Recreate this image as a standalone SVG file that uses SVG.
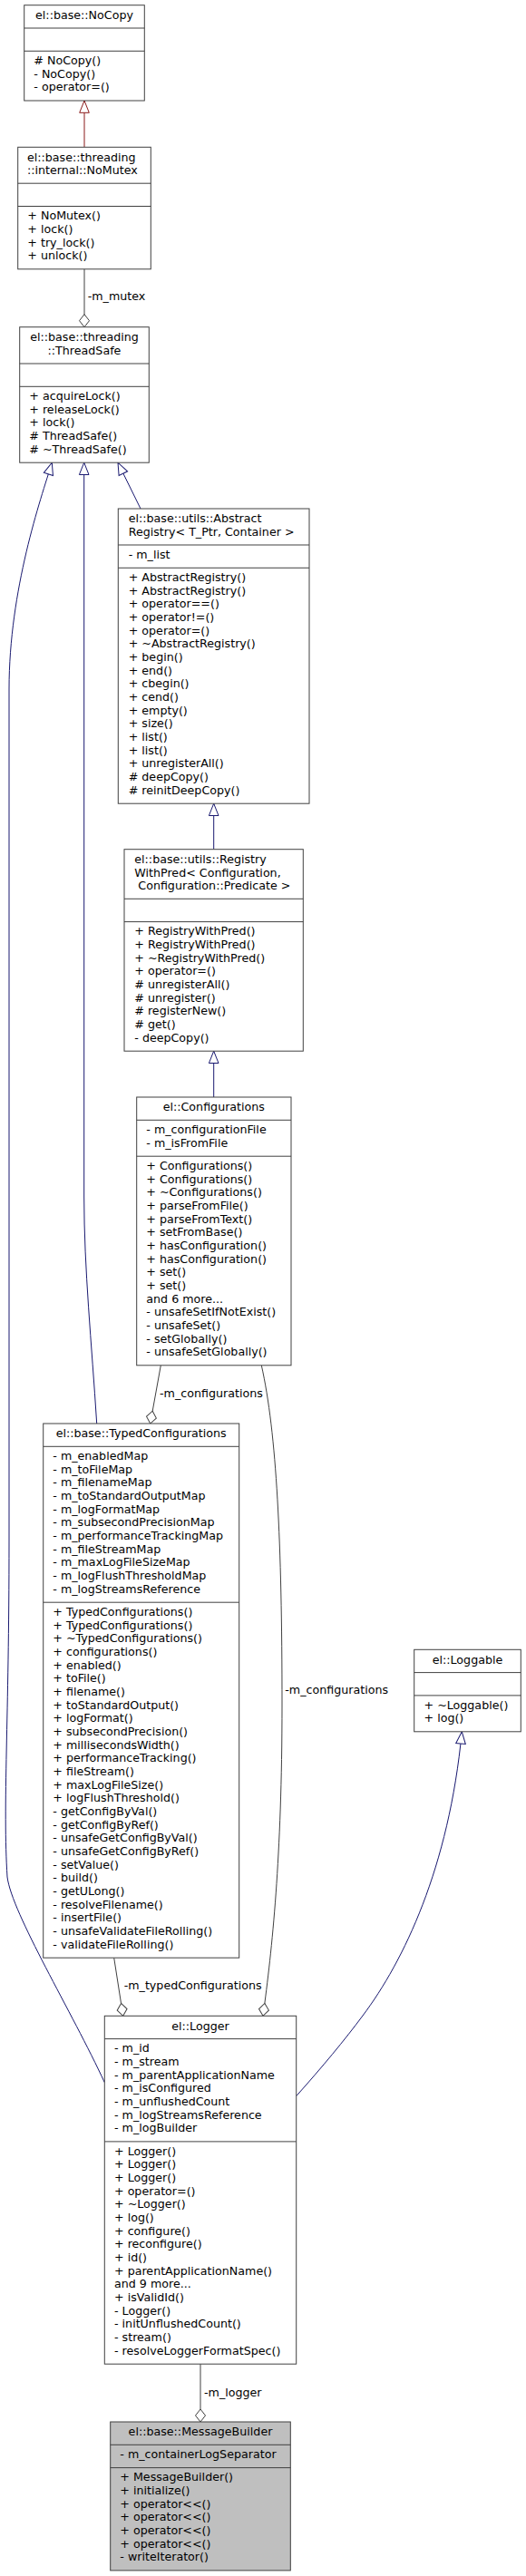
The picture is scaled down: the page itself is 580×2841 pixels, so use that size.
<svg xmlns="http://www.w3.org/2000/svg" width="580" height="2841" viewBox="0 0 580 2841">
<style>
text{font-family:"DejaVu Sans","Liberation Sans",sans-serif;font-size:12.67px;fill:#000}
.c{text-anchor:middle}
.box{fill:#fff;stroke:#404040;stroke-width:1}
.main{fill:#bfbfbf;stroke:#404040;stroke-width:1}
.div{stroke:#404040;stroke-width:1}
.inh{fill:none;stroke:#191970;stroke-width:1}
.inhr{fill:none;stroke:#8b1a1a;stroke-width:1}
.agg{fill:none;stroke:#404040;stroke-width:1}
</style>
<defs>
<marker id="triB" markerUnits="userSpaceOnUse" markerWidth="16" markerHeight="12" refX="13.3" refY="5.3" orient="auto" overflow="visible"><path d="M0,0 L13.3,5.3 L0,10.6 z" fill="#fff" stroke="#191970"/></marker>
<marker id="triR" markerUnits="userSpaceOnUse" markerWidth="16" markerHeight="12" refX="13.3" refY="5.3" orient="auto" overflow="visible"><path d="M0,0 L13.3,5.3 L0,10.6 z" fill="#fff" stroke="#8b1a1a"/></marker>
<marker id="dia" markerUnits="userSpaceOnUse" markerWidth="16" markerHeight="12" refX="14" refY="5.5" orient="auto" overflow="visible"><path d="M0,5.5 L7,0 L14,5.5 L7,11 z" fill="#fff" stroke="#404040"/></marker>
</defs>
<g id="connectors">
<path class="inhr" d="M93,162.3 L93,111" marker-end="url(#triR)"/>
<path class="agg" d="M93,296.8 L93,360.7" marker-end="url(#dia)"/>
<text x="96.7" y="331">-m_mutex</text>
<path class="inh" d="M155,561 L130,510.2" marker-end="url(#triB)"/>
<path class="inh" d="M106.7,1570 C101,1480 92.7,1400 92.7,1320 L92.7,510.2" marker-end="url(#triB)"/>
<path class="inh" d="M115.3,2296.7 C80,2220 13,2110 8,2070 C3,1990 10,1900 10,1700 L10,760 C10,650 45,550 57.3,510.2" marker-end="url(#triB)"/>
<path class="inh" d="M235.7,936.7 L235.7,886.2" marker-end="url(#triB)"/>
<path class="inh" d="M235.7,1210 L235.7,1159.2" marker-end="url(#triB)"/>
<path class="agg" d="M177.3,1505.8 L165.7,1570" marker-end="url(#dia)"/>
<text x="176" y="1541">-m_configurations</text>
<path class="agg" d="M288.3,1505.8 C305,1580 311,1700 311,1880 C311,2050 300,2150 290,2223.3" marker-end="url(#dia)"/>
<text x="314.3" y="1868.3">-m_configurations</text>
<path class="agg" d="M125.7,2159.2 L135.7,2223.3" marker-end="url(#dia)"/>
<text x="136.7" y="2194.3">-m_typedConfigurations</text>
<path class="inh" d="M326.7,2311.7 C355,2280 380,2250 400,2223 C445,2163 495,2060 509.3,1909.8" marker-end="url(#triB)"/>
<path class="agg" d="M221,2607.2 L221,2671" marker-end="url(#dia)"/>
<text x="225" y="2643.3">-m_logger</text>
</g>
<g id="NoCopy">
<rect class="box" x="26.7" y="5.7" width="132.6" height="105.3"/>
<line class="div" x1="26.7" y1="31" x2="159.3" y2="31"/>
<line class="div" x1="26.7" y1="56.3" x2="159.3" y2="56.3"/>
<text class="c" x="93" y="20.9">el::base::NoCopy</text>
<text x="37.3" y="71">#  NoCopy()</text>
<text x="37.3" y="85.6">- NoCopy()</text>
<text x="37.3" y="100.3">- operator=()</text>
</g>
<g id="NoMutex">
<rect class="box" x="19.7" y="162.3" width="146.6" height="134.5"/>
<line class="div" x1="19.7" y1="202.2" x2="166.3" y2="202.2"/>
<line class="div" x1="19.7" y1="227.5" x2="166.3" y2="227.5"/>
<text x="30" y="177.5">el::base::threading</text>
<text x="30" y="192.2">::internal::NoMutex</text>
<text x="30.3" y="242.2">+ NoMutex()</text>
<text x="30.3" y="256.9">+ lock()</text>
<text x="30.3" y="271.5">+ try_lock()</text>
<text x="30.3" y="286.2">+ unlock()</text>
</g>
<g id="ThreadSafe">
<rect class="box" x="21.7" y="360.7" width="142.6" height="149.5"/>
<line class="div" x1="21.7" y1="401" x2="164.3" y2="401"/>
<line class="div" x1="21.7" y1="426.3" x2="164.3" y2="426.3"/>
<text class="c" x="93" y="375.9">el::base::threading</text>
<text class="c" x="93" y="390.6">::ThreadSafe</text>
<text x="32.3" y="441">+ acquireLock()</text>
<text x="32.3" y="455.7">+ releaseLock()</text>
<text x="32.3" y="470.3">+ lock()</text>
<text x="32.3" y="485">#  ThreadSafe()</text>
<text x="32.3" y="499.7">#  ~ThreadSafe()</text>
</g>
<g id="AbstractRegistry">
<rect class="box" x="130.3" y="561" width="210.7" height="325.2"/>
<line class="div" x1="130.3" y1="601" x2="341" y2="601"/>
<line class="div" x1="130.3" y1="626.3" x2="341" y2="626.3"/>
<text x="141.7" y="576.2">el::base::utils::Abstract</text>
<text x="141.7" y="590.9">Registry&lt; T_Ptr, Container &gt;</text>
<text x="141.7" y="615.7">- m_list</text>
<text x="141.7" y="641">+ AbstractRegistry()</text>
<text x="141.7" y="655.7">+ AbstractRegistry()</text>
<text x="141.7" y="670.3">+ operator==()</text>
<text x="141.7" y="685">+ operator!=()</text>
<text x="141.7" y="699.7">+ operator=()</text>
<text x="141.7" y="714.3">+ ~AbstractRegistry()</text>
<text x="141.7" y="729">+ begin()</text>
<text x="141.7" y="743.7">+ end()</text>
<text x="141.7" y="758.4">+ cbegin()</text>
<text x="141.7" y="773">+ cend()</text>
<text x="141.7" y="787.7">+ empty()</text>
<text x="141.7" y="802.4">+ size()</text>
<text x="141.7" y="817">+ list()</text>
<text x="141.7" y="831.7">+ list()</text>
<text x="141.7" y="846.4">+ unregisterAll()</text>
<text x="141.7" y="861">#  deepCopy()</text>
<text x="141.7" y="875.7">#  reinitDeepCopy()</text>
</g>
<g id="RegistryWithPred">
<rect class="box" x="137" y="936.7" width="197.3" height="222.5"/>
<line class="div" x1="137" y1="991.3" x2="334.3" y2="991.3"/>
<line class="div" x1="137" y1="1016.6" x2="334.3" y2="1016.6"/>
<text x="148.3" y="951.9">el::base::utils::Registry</text>
<text x="148.3" y="966.6">WithPred&lt; Configuration,</text>
<text x="152.3" y="981.2">Configuration::Predicate &gt;</text>
<text x="148.3" y="1031.3">+ RegistryWithPred()</text>
<text x="148.3" y="1046">+ RegistryWithPred()</text>
<text x="148.3" y="1060.6">+ ~RegistryWithPred()</text>
<text x="148.3" y="1075.3">+ operator=()</text>
<text x="148.3" y="1090">#  unregisterAll()</text>
<text x="148.3" y="1104.6">#  unregister()</text>
<text x="148.3" y="1119.3">#  registerNew()</text>
<text x="148.3" y="1134">#  get()</text>
<text x="148.3" y="1148.7">- deepCopy()</text>
</g>
<g id="Configurations">
<rect class="box" x="150.7" y="1210" width="170.3" height="295.8"/>
<line class="div" x1="150.7" y1="1235.3" x2="321" y2="1235.3"/>
<line class="div" x1="150.7" y1="1275.2" x2="321" y2="1275.2"/>
<text class="c" x="235.85" y="1225.2">el::Configurations</text>
<text x="161.3" y="1250">- m_configurationFile</text>
<text x="161.3" y="1264.7">- m_isFromFile</text>
<text x="161.3" y="1289.9">+ Configurations()</text>
<text x="161.3" y="1304.6">+ Configurations()</text>
<text x="161.3" y="1319.2">+ ~Configurations()</text>
<text x="161.3" y="1333.9">+ parseFromFile()</text>
<text x="161.3" y="1348.6">+ parseFromText()</text>
<text x="161.3" y="1363.2">+ setFromBase()</text>
<text x="161.3" y="1377.9">+ hasConfiguration()</text>
<text x="161.3" y="1392.6">+ hasConfiguration()</text>
<text x="161.3" y="1407.3">+ set()</text>
<text x="161.3" y="1421.9">+ set()</text>
<text x="161.3" y="1436.6">and 6 more...</text>
<text x="161.3" y="1451.3">- unsafeSetIfNotExist()</text>
<text x="161.3" y="1465.9">- unsafeSet()</text>
<text x="161.3" y="1480.6">- setGlobally()</text>
<text x="161.3" y="1495.3">- unsafeSetGlobally()</text>
</g>
<g id="TypedConfigurations">
<rect class="box" x="47.7" y="1570" width="216" height="589.2"/>
<line class="div" x1="47.7" y1="1595.3" x2="263.7" y2="1595.3"/>
<line class="div" x1="47.7" y1="1767.2" x2="263.7" y2="1767.2"/>
<text class="c" x="155.7" y="1585.2">el::base::TypedConfigurations</text>
<text x="58.3" y="1610">- m_enabledMap</text>
<text x="58.3" y="1624.7">- m_toFileMap</text>
<text x="58.3" y="1639.3">- m_filenameMap</text>
<text x="58.3" y="1654">- m_toStandardOutputMap</text>
<text x="58.3" y="1668.7">- m_logFormatMap</text>
<text x="58.3" y="1683.3">- m_subsecondPrecisionMap</text>
<text x="58.3" y="1698">- m_performanceTrackingMap</text>
<text x="58.3" y="1712.7">- m_fileStreamMap</text>
<text x="58.3" y="1727.4">- m_maxLogFileSizeMap</text>
<text x="58.3" y="1742">- m_logFlushThresholdMap</text>
<text x="58.3" y="1756.7">- m_logStreamsReference</text>
<text x="58.3" y="1781.9">+ TypedConfigurations()</text>
<text x="58.3" y="1796.6">+ TypedConfigurations()</text>
<text x="58.3" y="1811.2">+ ~TypedConfigurations()</text>
<text x="58.3" y="1825.9">+ configurations()</text>
<text x="58.3" y="1840.6">+ enabled()</text>
<text x="58.3" y="1855.2">+ toFile()</text>
<text x="58.3" y="1869.9">+ filename()</text>
<text x="58.3" y="1884.6">+ toStandardOutput()</text>
<text x="58.3" y="1899.3">+ logFormat()</text>
<text x="58.3" y="1913.9">+ subsecondPrecision()</text>
<text x="58.3" y="1928.6">+ millisecondsWidth()</text>
<text x="58.3" y="1943.3">+ performanceTracking()</text>
<text x="58.3" y="1957.9">+ fileStream()</text>
<text x="58.3" y="1972.6">+ maxLogFileSize()</text>
<text x="58.3" y="1987.3">+ logFlushThreshold()</text>
<text x="58.3" y="2001.9">- getConfigByVal()</text>
<text x="58.3" y="2016.6">- getConfigByRef()</text>
<text x="58.3" y="2031.3">- unsafeGetConfigByVal()</text>
<text x="58.3" y="2046">- unsafeGetConfigByRef()</text>
<text x="58.3" y="2060.6">- setValue()</text>
<text x="58.3" y="2075.3">- build()</text>
<text x="58.3" y="2090">- getULong()</text>
<text x="58.3" y="2104.6">- resolveFilename()</text>
<text x="58.3" y="2119.3">- insertFile()</text>
<text x="58.3" y="2134">- unsafeValidateFileRolling()</text>
<text x="58.3" y="2148.7">- validateFileRolling()</text>
</g>
<g id="Loggable">
<rect class="box" x="456.7" y="1819.3" width="117.6" height="90.5"/>
<line class="div" x1="456.7" y1="1844.6" x2="574.3" y2="1844.6"/>
<line class="div" x1="456.7" y1="1869.9" x2="574.3" y2="1869.9"/>
<text class="c" x="515.5" y="1834.5">el::Loggable</text>
<text x="467.5" y="1884.6">+ ~Loggable()</text>
<text x="467.5" y="1899.2">+ log()</text>
</g>
<g id="Logger">
<rect class="box" x="115.3" y="2223.3" width="211.4" height="383.9"/>
<line class="div" x1="115.3" y1="2248.6" x2="326.7" y2="2248.6"/>
<line class="div" x1="115.3" y1="2361.9" x2="326.7" y2="2361.9"/>
<text class="c" x="221" y="2238.5">el::Logger</text>
<text x="126" y="2263.3">- m_id</text>
<text x="126" y="2278">- m_stream</text>
<text x="126" y="2292.6">- m_parentApplicationName</text>
<text x="126" y="2307.3">- m_isConfigured</text>
<text x="126" y="2322">- m_unflushedCount</text>
<text x="126" y="2336.6">- m_logStreamsReference</text>
<text x="126" y="2351.3">- m_logBuilder</text>
<text x="126" y="2376.6">+ Logger()</text>
<text x="126" y="2391.3">+ Logger()</text>
<text x="126" y="2405.9">+ Logger()</text>
<text x="126" y="2420.6">+ operator=()</text>
<text x="126" y="2435.3">+ ~Logger()</text>
<text x="126" y="2449.9">+ log()</text>
<text x="126" y="2464.6">+ configure()</text>
<text x="126" y="2479.3">+ reconfigure()</text>
<text x="126" y="2494">+ id()</text>
<text x="126" y="2508.6">+ parentApplicationName()</text>
<text x="126" y="2523.3">and 9 more...</text>
<text x="126" y="2538">+ isValidId()</text>
<text x="126" y="2552.6">- Logger()</text>
<text x="126" y="2567.3">- initUnflushedCount()</text>
<text x="126" y="2582">- stream()</text>
<text x="126" y="2596.6">- resolveLoggerFormatSpec()</text>
</g>
<g id="MessageBuilder">
<rect class="main" x="121.7" y="2671" width="198.6" height="163.9"/>
<line class="div" x1="121.7" y1="2696.3" x2="320.3" y2="2696.3"/>
<line class="div" x1="121.7" y1="2721.6" x2="320.3" y2="2721.6"/>
<text class="c" x="221" y="2686.2">el::base::MessageBuilder</text>
<text x="132.3" y="2711">- m_containerLogSeparator</text>
<text x="132.3" y="2736.3">+ MessageBuilder()</text>
<text x="132.3" y="2751">+ initialize()</text>
<text x="132.3" y="2765.6">+ operator&lt;&lt;()</text>
<text x="132.3" y="2780.3">+ operator&lt;&lt;()</text>
<text x="132.3" y="2795">+ operator&lt;&lt;()</text>
<text x="132.3" y="2809.6">+ operator&lt;&lt;()</text>
<text x="132.3" y="2824.3">- writeIterator()</text>
</g>
</svg>
